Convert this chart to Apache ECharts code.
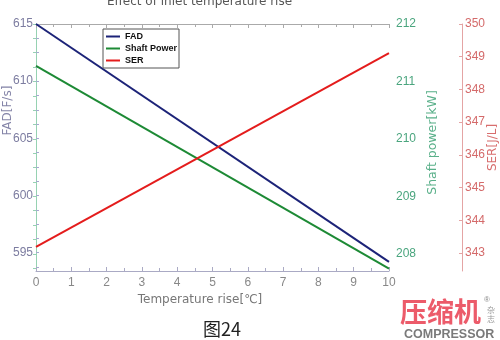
<!DOCTYPE html>
<html>
<head>
<meta charset="utf-8">
<script src="https://cdn.jsdelivr.net/npm/echarts@6/dist/echarts.min.js"></script>
<style>html,body{margin:0;padding:0;background:#fff}#c{width:500px;height:340px}</style>
</head>
<body>
<div id="c"></div>
<script>
// ---- data ----
const tempRise = [0, 10];                 // x values (straight lines, endpoints)
const fad = [615, 594.2];                 // FAD [F/s]
const shaftPower = [211.27, 207.74];      // Shaft power [kW]
const ser = [343.19, 349.11];             // SER [J/L]

const fadLabels = [595, 600, 605, 610, 615];
const fadTicks = [593.75, 595, 596.25, 597.5, 598.75, 600, 601.25, 602.5, 603.75, 605, 606.25, 607.5, 608.75, 610, 611.25, 612.5, 613.75, 615];
const shaftLabels = [208, 209, 210, 211, 212];
const shaftTicks = [207.75, 208, 208.25, 208.5, 208.75, 209, 209.25, 209.5, 209.75, 210, 210.25, 210.5, 210.75, 211, 211.25, 211.5, 211.75, 212];
const serLabels = [343, 344, 345, 346, 347, 348, 349, 350];
const serTicks = [343, 344, 345, 346, 347, 348, 349, 350];

const axisFont = 'Liberation Sans';
const nameFont = 'DejaVu Sans';

const chart = echarts.init(document.getElementById('c'), null, {renderer: 'canvas'});
chart.setOption({
  backgroundColor: '#ffffff',
  animation: false,
  title: {
    text: 'Effect of inlet temperature rise',
    left: 107, top: -4, padding: 0,
    textStyle: {fontFamily: nameFont, fontSize: 12, fontWeight: 'normal', color: '#555'}
  },
  legend: {
    orient: 'vertical', left: 103, top: 29,
    backgroundColor: '#fff', borderColor: '#555', borderWidth: 1,
    padding: [3, 2, 3, 3], itemWidth: 14, itemHeight: 2, itemGap: 3,
    icon: 'rect',
    textStyle: {fontFamily: axisFont, fontSize: 9, fontWeight: 'bold', color: '#111', lineHeight: 9},
    data: ['FAD', 'Shaft Power', 'SER']
  },
  grid: {left: 36, right: 111, top: 24, bottom: 69, containLabel: false, outerBoundsMode: 'none'},
  xAxis: [{
    type: 'value', min: 0, max: 10, interval: 1, position: 'bottom',
    axisLine: {lineStyle: {color: '#aaaac4', width: 1}},
    axisTick: {inside: true, length: 4, lineStyle: {color: '#aaaac4'}},
    minorTick: {show: true, splitNumber: 2, length: 3, lineStyle: {color: '#aaaac4'}},
    splitLine: {show: false},
    axisLabel: {color: '#888', fontFamily: axisFont, fontSize: 12, margin: 6},
    name: 'Temperature rise[℃]', nameLocation: 'middle', nameGap: 23, nameMoveOverlap: false,
    nameTextStyle: {fontFamily: nameFont, fontSize: 12, color: '#777', padding: [0, 25, 0, 0]}
  }, {
    type: 'value', min: 0, max: 10, interval: 1, position: 'top',
    axisLine: {lineStyle: {color: '#aaa', width: 1}},
    axisTick: {inside: true, length: 4, lineStyle: {color: '#aaa'}},
    minorTick: {show: true, splitNumber: 2, length: 3, lineStyle: {color: '#aaa'}},
    splitLine: {show: false},
    axisLabel: {show: false}
  }],
  yAxis: [{
    type: 'value', min: 593.4, max: 615, position: 'left',
    axisLine: {show: true, lineStyle: {color: '#a8a8d0'}},
    axisTick: {show: true, inside: true, length: 3, customValues: fadTicks, lineStyle: {color: '#a8a8d0'}},
    axisLabel: {customValues: fadLabels, color: '#7c7ca0', fontFamily: axisFont, fontSize: 12, margin: 3},
    splitLine: {show: false},
    name: 'FAD[F/s]', nameLocation: 'middle', nameGap: 22, nameRotate: 90, nameMoveOverlap: false,
    nameTextStyle: {fontFamily: nameFont, fontSize: 12, color: '#8484a8', align: 'left', padding: [0, 0, 0, 12]}
  }, {
    type: 'value', min: 207.7, max: 212, position: 'right', offset: 0,
    axisLine: {show: true, lineStyle: {color: '#96d2b2'}},
    axisTick: {show: true, inside: true, length: 3, customValues: shaftTicks, lineStyle: {color: '#96d2b2'}},
    axisLabel: {customValues: shaftLabels, color: '#4aa57e', fontFamily: axisFont, fontSize: 12, margin: 7},
    splitLine: {show: false},
    name: 'Shaft power[kW]', nameLocation: 'middle', nameGap: 37, nameRotate: 90, nameMoveOverlap: false,
    nameTextStyle: {fontFamily: nameFont, fontSize: 12.5, color: '#5ab08a', padding: [0, 0, 0, 10]}
  }, {
    type: 'value', min: 342.45, max: 350, position: 'right', offset: 73,
    axisLine: {show: true, lineStyle: {color: '#e4a4a4'}},
    axisTick: {show: true, inside: true, length: 3, customValues: serTicks, lineStyle: {color: '#e4a4a4'}},
    axisLabel: {customValues: serLabels, color: '#d46a6a', fontFamily: axisFont, fontSize: 12, margin: 3},
    splitLine: {show: false},
    name: 'SER[J/L]', nameLocation: 'middle', nameGap: 25, nameRotate: 90, nameMoveOverlap: false,
    nameTextStyle: {fontFamily: nameFont, fontSize: 12, color: '#d86e6e'}
  }],
  series: [{
    name: 'FAD', type: 'line', xAxisIndex: 0, yAxisIndex: 0, symbol: 'none',
    lineStyle: {color: '#1c2378', width: 2}, itemStyle: {color: '#1c2378'},
    data: tempRise.map((x, i) => [x, fad[i]])
  }, {
    name: 'Shaft Power', type: 'line', xAxisIndex: 0, yAxisIndex: 1, symbol: 'none',
    lineStyle: {color: '#1d8a35', width: 2}, itemStyle: {color: '#1d8a35'},
    data: tempRise.map((x, i) => [x, shaftPower[i]])
  }, {
    name: 'SER', type: 'line', xAxisIndex: 0, yAxisIndex: 2, symbol: 'none',
    lineStyle: {color: '#e41c1c', width: 2}, itemStyle: {color: '#e41c1c'},
    data: tempRise.map((x, i) => [x, ser[i]])
  }],
  graphic: [
    {type: 'text', left: 203, top: 320, style: {text: '图24', fontFamily: 'Noto Sans CJK SC', fontSize: 18, fill: '#222'}},
    {type: 'text', left: 400, top: 298, style: {text: '压缩机', fontFamily: 'Noto Sans CJK SC', fontSize: 27, fontWeight: 'bold', fill: '#ec5b6a'}},
    {type: 'text', left: 484, top: 296, style: {text: '®', fontFamily: axisFont, fontSize: 8, fill: '#888'}},
    {type: 'text', left: 487, top: 305, style: {text: '杂\n志', fontFamily: 'Noto Sans CJK SC', fontSize: 8, lineHeight: 9, fill: '#999'}},
    {type: 'text', left: 404, top: 328, style: {text: 'COMPRESSOR', fontFamily: axisFont, fontSize: 12.5, fontWeight: 'bold', fill: '#7a7a7a'}}
  ]
});
</script>
</body>
</html>
